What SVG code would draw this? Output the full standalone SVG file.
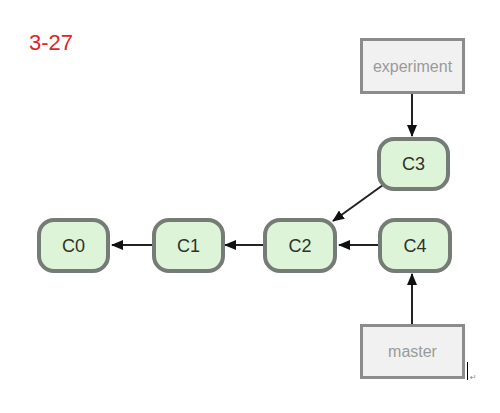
<svg xmlns="http://www.w3.org/2000/svg" width="500" height="413" viewBox="0 0 500 413">
<style>
.commit rect{fill:#ddf4d9;stroke:#757b75;stroke-width:4}
.commit text{font-family:"Liberation Sans",Arial,sans-serif;font-size:18px;fill:#2b332b;text-anchor:middle}
.branch rect{fill:#f1f1f1;stroke:#8c8c8c;stroke-width:3}
.branch text{font-family:"Liberation Sans",Arial,sans-serif;font-size:16px;fill:#9a9a9a;text-anchor:middle}
.edge{stroke:#222;stroke-width:2;fill:none;marker-end:url(#ah)}
</style>
<defs>
<marker id="ah" markerWidth="12" markerHeight="10" refX="11" refY="5" orient="auto" markerUnits="userSpaceOnUse">
<path d="M0,0 L12,5 L0,10 Z" fill="#111"/>
</marker>
</defs>
<rect width="500" height="413" fill="#fff"/>
<text x="29" y="50" font-family="'Liberation Sans',Arial,sans-serif" font-size="22" fill="#e0242a">3-27</text>
<g id="connectors">
<line class="edge" x1="412" y1="93" x2="412" y2="136"/>
<line class="edge" x1="383" y1="185" x2="333" y2="221"/>
<line class="edge" x1="378" y1="245" x2="339" y2="245"/>
<line class="edge" x1="263" y1="245" x2="225" y2="245"/>
<line class="edge" x1="152" y1="245" x2="112" y2="245"/>
<line class="edge" x1="412" y1="324" x2="412" y2="274"/>
</g>
<g id="experiment" class="branch">
<rect x="361.5" y="39.5" width="102" height="53"/>
<text x="412.5" y="72">experiment</text>
</g>
<g id="C3" class="commit">
<rect x="379" y="139" width="69" height="50" rx="15"/>
<text x="413.5" y="170">C3</text>
</g>
<g id="C0" class="commit">
<rect x="39" y="220" width="69" height="51" rx="15"/>
<text x="73.5" y="252">C0</text>
</g>
<g id="C1" class="commit">
<rect x="154" y="220" width="69" height="51" rx="15"/>
<text x="188.5" y="252">C1</text>
</g>
<g id="C2" class="commit">
<rect x="265" y="220" width="70" height="51" rx="15"/>
<text x="300" y="252">C2</text>
</g>
<g id="C4" class="commit">
<rect x="380" y="220" width="70" height="51" rx="15"/>
<text x="415" y="252">C4</text>
</g>
<g id="master" class="branch">
<rect x="361.5" y="325.5" width="102" height="52"/>
<text x="412.5" y="357">master</text>
</g>
<line x1="467.5" y1="362" x2="467.5" y2="380" stroke="#000" stroke-width="1"/>
<text x="470" y="380" font-family="'DejaVu Sans',sans-serif" font-size="8" fill="#888">↵</text>
</svg>
